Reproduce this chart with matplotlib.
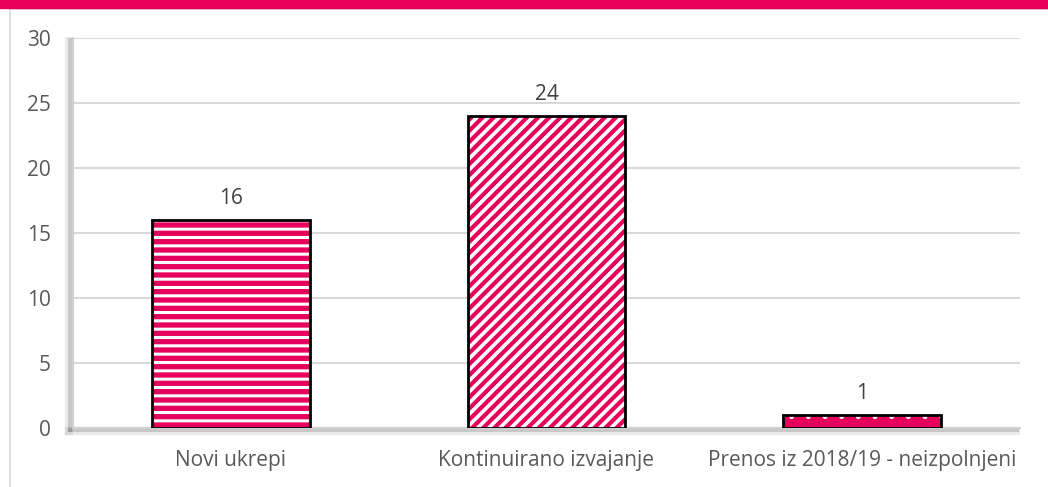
import matplotlib.pyplot as plt
import matplotlib.patheffects as pe
from matplotlib.patches import Rectangle
from matplotlib.lines import Line2D
import numpy as np

# data
categories = ['Novi ukrepi', 'Kontinuirano izvajanje', 'Prenos iz 2018/19 - neizpolnjeni']
values = [16, 24, 1]
hatches = ['--', '///', '.']
magenta = '#E6005C'

plt.rcParams['font.family'] = ['Open Sans', 'DejaVu Sans']

W, H = 1048, 487
fig = plt.figure(figsize=(W / 100, H / 100), dpi=100)
ax = fig.add_axes([73 / W, 1 - 428 / H, (1020 - 73) / W, (428 - 38) / H])

x = np.arange(len(categories))

# fill + hatch (hatch colour comes from edgecolor), then black outline on top
face = [magenta, 'white', magenta]
hcol = ['white', magenta, 'white']
hlw = [2.2, 3.0, 1.0]
for i in range(len(values)):
    plt.rcParams['hatch.linewidth'] = hlw[i]
    b = ax.bar(x[i], values[i], width=0.5, color=face[i], edgecolor=hcol[i],
               hatch=hatches[i], linewidth=0, zorder=3)
    for p in b:
        if hasattr(p, 'set_hatch_linewidth'):
            p.set_hatch_linewidth(hlw[i])
ax.bar(x, values, width=0.5, fill=False, edgecolor='black', linewidth=2, zorder=4)

for xi, v in zip(x, values):
    ax.annotate(str(v), (xi, v), xytext=(0, 8), textcoords='offset points',
                ha='center', va='bottom', fontsize=15, color='#404040')

ax.set_xlim(-0.5, 2.5)
ax.set_ylim(0, 30)
ax.set_yticks(range(0, 31, 5))
ax.set_xticks(x)
ax.set_xticklabels(categories)
ax.tick_params(length=0, labelsize=15, labelcolor='#595959')
ax.tick_params(axis='y', pad=16)
ax.tick_params(axis='x', pad=16)
ax.yaxis.grid(True, color='#d9d9d9', linewidth=1.5, zorder=0)
ax.set_axisbelow(True)

for s in ['top', 'right']:
    ax.spines[s].set_visible(False)
shadow = [pe.SimpleLineShadow(offset=(-3, -2), shadow_color='#000000', alpha=0.08, linewidth=6),
          pe.SimpleLineShadow(offset=(-2, -1.5), shadow_color='#000000', alpha=0.15, linewidth=3),
          pe.Normal()]
for s in ['left', 'bottom']:
    ax.spines[s].set_color('#d0d0d0')
    ax.spines[s].set_linewidth(1.5)
    ax.spines[s].set_path_effects(shadow)

# top band and frame
fig.patches.append(Rectangle((0, 1 - 8 / H), 1, 8 / H, transform=fig.transFigure,
                             color=magenta, zorder=5))
fig.lines.append(Line2D([10 / W, 1], [1 - 9 / H, 1 - 9 / H], transform=fig.transFigure,
                        color='#d9d9d9', linewidth=1.2))
fig.lines.append(Line2D([10 / W, 10 / W], [0, 1 - 9 / H], transform=fig.transFigure,
                        color='#d9d9d9', linewidth=1.2))

fig.savefig('out.png', dpi=100)
